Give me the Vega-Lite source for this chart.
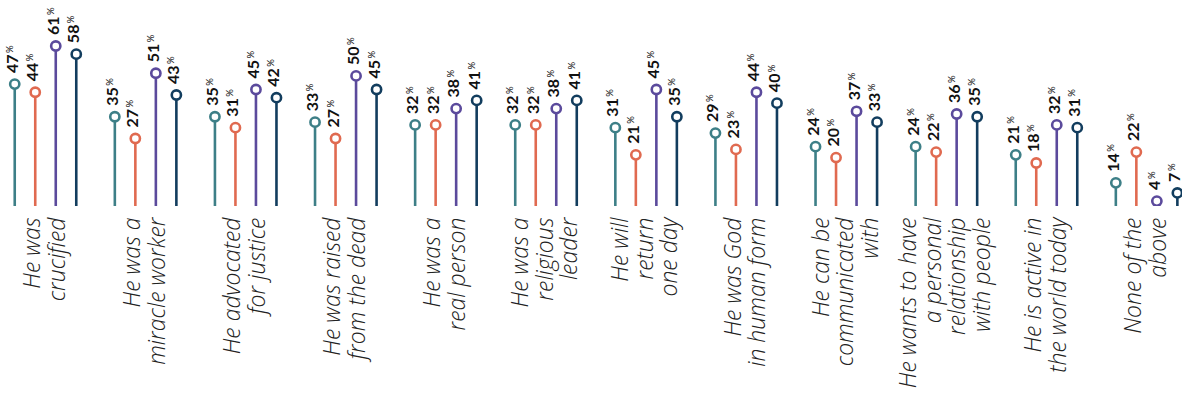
{
  "$schema": "https://vega.github.io/schema/vega-lite/v6.json",
  "width": 1182,
  "height": 206,
  "autosize": "none",
  "padding": {"left": 0, "top": 0, "right": 0, "bottom": 201},
  "background": "white",
  "config": {"view": {"stroke": null}},
  "data": {"values": [
    {"item": "He was|crucified", "series": "A", "value": 47, "label": 47},
    {"item": "He was|crucified", "series": "B", "value": 44, "label": 44},
    {"item": "He was|crucified", "series": "C", "value": 61, "label": 61},
    {"item": "He was|crucified", "series": "D", "value": 58, "label": 58},
    {"item": "He was a|miracle worker", "series": "A", "value": 35, "label": 35},
    {"item": "He was a|miracle worker", "series": "B", "value": 27, "label": 27},
    {"item": "He was a|miracle worker", "series": "C", "value": 51, "label": 51},
    {"item": "He was a|miracle worker", "series": "D", "value": 43, "label": 43},
    {"item": "He advocated|for justice", "series": "A", "value": 35, "label": 35},
    {"item": "He advocated|for justice", "series": "B", "value": 31, "label": 31},
    {"item": "He advocated|for justice", "series": "C", "value": 45, "label": 45},
    {"item": "He advocated|for justice", "series": "D", "value": 42, "label": 42},
    {"item": "He was raised|from the dead", "series": "A", "value": 33, "label": 33},
    {"item": "He was raised|from the dead", "series": "B", "value": 27, "label": 27},
    {"item": "He was raised|from the dead", "series": "C", "value": 50, "label": 50},
    {"item": "He was raised|from the dead", "series": "D", "value": 45, "label": 45},
    {"item": "He was a|real person", "series": "A", "value": 32, "label": 32},
    {"item": "He was a|real person", "series": "B", "value": 32, "label": 32},
    {"item": "He was a|real person", "series": "C", "value": 38, "label": 38},
    {"item": "He was a|real person", "series": "D", "value": 41, "label": 41},
    {"item": "He was a|religious|leader", "series": "A", "value": 32, "label": 32},
    {"item": "He was a|religious|leader", "series": "B", "value": 32, "label": 32},
    {"item": "He was a|religious|leader", "series": "C", "value": 38, "label": 38},
    {"item": "He was a|religious|leader", "series": "D", "value": 41, "label": 41},
    {"item": "He will|return|one day", "series": "A", "value": 31, "label": 31},
    {"item": "He will|return|one day", "series": "B", "value": 21, "label": 21},
    {"item": "He will|return|one day", "series": "C", "value": 45, "label": 45},
    {"item": "He will|return|one day", "series": "D", "value": 35, "label": 35},
    {"item": "He was God|in human form", "series": "A", "value": 29, "label": 29},
    {"item": "He was God|in human form", "series": "B", "value": 23, "label": 23},
    {"item": "He was God|in human form", "series": "C", "value": 44, "label": 44},
    {"item": "He was God|in human form", "series": "D", "value": 40, "label": 40},
    {"item": "He can be|communicated|with", "series": "A", "value": 24, "label": 24},
    {"item": "He can be|communicated|with", "series": "B", "value": 20, "label": 20},
    {"item": "He can be|communicated|with", "series": "C", "value": 37, "label": 37},
    {"item": "He can be|communicated|with", "series": "D", "value": 33, "label": 33},
    {"item": "He wants to have|a personal|relationship|with people", "series": "A", "value": 24, "label": 24},
    {"item": "He wants to have|a personal|relationship|with people", "series": "B", "value": 22, "label": 22},
    {"item": "He wants to have|a personal|relationship|with people", "series": "C", "value": 36, "label": 36},
    {"item": "He wants to have|a personal|relationship|with people", "series": "D", "value": 35, "label": 35},
    {"item": "He is active in|the world today", "series": "A", "value": 21, "label": 21},
    {"item": "He is active in|the world today", "series": "B", "value": 18, "label": 18},
    {"item": "He is active in|the world today", "series": "C", "value": 32, "label": 32},
    {"item": "He is active in|the world today", "series": "D", "value": 31, "label": 31},
    {"item": "None of the|above", "series": "A", "value": 10.7, "label": 14},
    {"item": "None of the|above", "series": "B", "value": 22, "label": 22},
    {"item": "None of the|above", "series": "C", "value": 4, "label": 4},
    {"item": "None of the|above", "series": "D", "value": 7, "label": 7}
  ]},
  "encoding": {
    "x": {
      "field": "item", "type": "nominal", "sort": null,
      "scale": {"range": [-4.55, 1196.65], "paddingInner": 0, "paddingOuter": 0},
      "axis": {
        "title": null, "domain": false, "ticks": false,
        "labelAngle": -90, "labelAlign": "right", "labelBaseline": "middle",
        "labelFont": "Open Sans", "labelFontStyle": "italic", "labelFontWeight": 300,
        "labelFontSize": 23, "labelColor": "#222222", "labelPadding": 11,
        "labelLineHeight": 12.25, "labelOffset": -37, "labelLimit": 400, "labelOverlap": false,
        "labelExpr": "split((length(split(datum.label, '|')) == 2 ? '\u200b|\u200b|' : (length(split(datum.label, '|')) == 3 ? '\u200b|' : '')) + join(split(datum.label, '|'), '|\u200b|'), '|')"
      }
    },
    "xOffset": {"field": "series", "type": "nominal", "sort": null, "scale": {"paddingInner": 0, "paddingOuter": 0.44}},
    "y": {"field": "value", "type": "quantitative", "scale": {"domain": [2.2, 77.9], "nice": false, "zero": false}, "axis": null},
    "color": {"field": "series", "type": "nominal", "sort": null, "scale": {"domain": ["A", "B", "C", "D"], "range": ["#3d7f87", "#e06a50", "#5b4a9c", "#123d5e"]}, "legend": null}
  },
  "layer": [
    {"mark": {"type": "rule", "strokeWidth": 2.6, "clip": true}, "encoding": {"y2": {"datum": 0}}},
    {"mark": {"type": "point", "shape": "circle", "filled": false, "fill": "white", "fillOpacity": 1, "opacity": 1, "strokeWidth": 2.6, "size": 85, "clip": true}},
    {"mark": {"type": "text", "angle": 270, "align": "left", "baseline": "alphabetic", "dx": 11, "dy": 3, "font": "Lato", "fontWeight": "bold", "fontSize": 16}, "encoding": {"text": {"field": "label", "type": "quantitative"}, "color": {"value": "#111111"}}},
    {"transform": [{"filter": "datum.label >= 10"}], "mark": {"type": "text", "angle": 270, "align": "left", "baseline": "alphabetic", "dx": 31, "dy": -2, "font": "Lato", "fontSize": 9.5, "text": "%"}, "encoding": {"color": {"value": "#111111"}}},
    {"transform": [{"filter": "datum.label < 10"}], "mark": {"type": "text", "angle": 270, "align": "left", "baseline": "alphabetic", "dx": 22, "dy": -2, "font": "Lato", "fontSize": 9.5, "text": "%"}, "encoding": {"color": {"value": "#111111"}}}
  ]
}
